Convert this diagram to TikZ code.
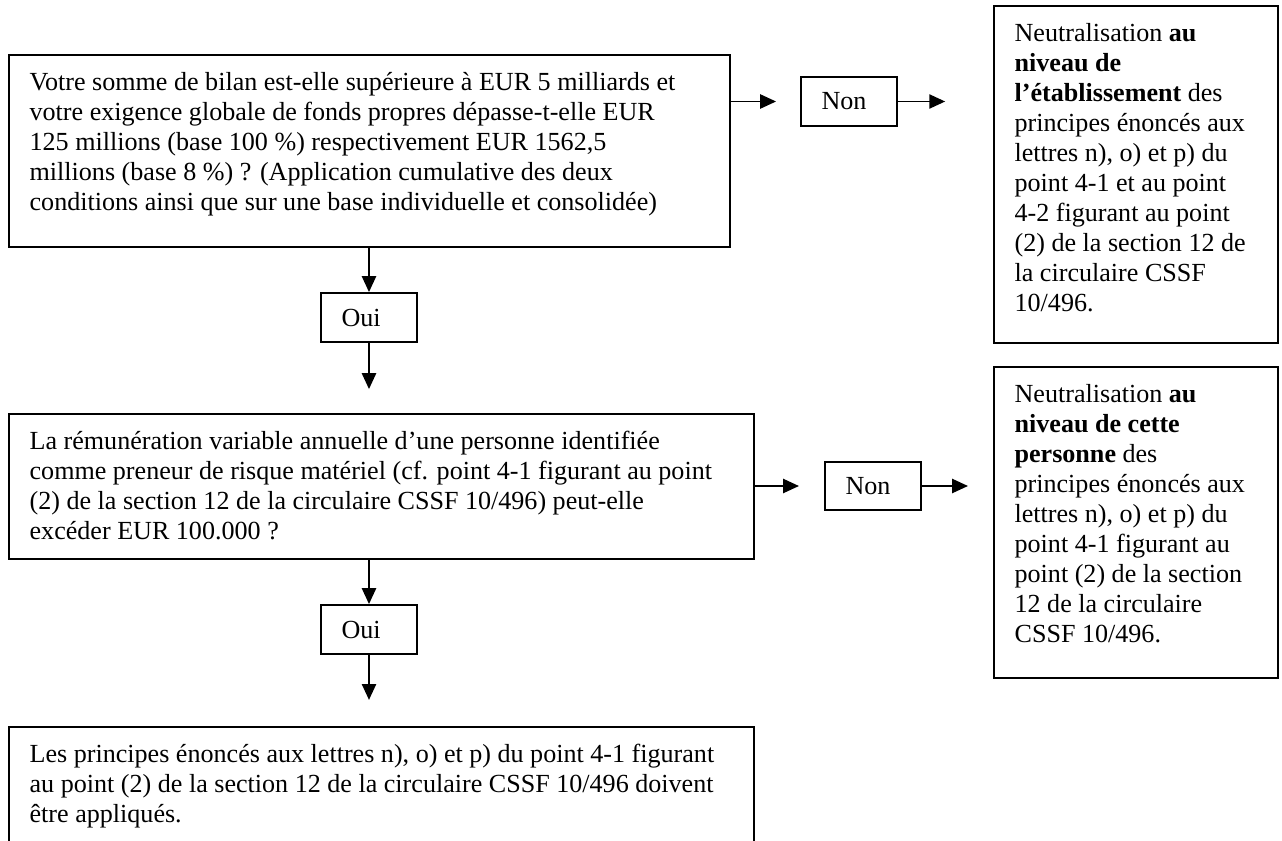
\documentclass[tikz,border=0pt]{standalone}
\usepackage{fontspec}
\setmainfont{Liberation Serif}
\usetikzlibrary{arrows.meta}

\begin{document}
\begin{tikzpicture}[x=0.46pt,y=-0.46pt,->,>={Triangle[length=7.3pt,width=6.5pt]},
        line width=0.9pt,every node/.style={font=\fontsize{12}{13.8}\selectfont},
        qbox/.style={draw,anchor=north west,inner xsep=9.5pt,inner ysep=8pt},
        ansbox/.style={draw,minimum width=44.2pt,minimum height=22.5pt,
          text width=25.2pt,align=left,inner sep=0pt}]

  \useasboundingbox (0,0) rectangle (1282,841);
  \clip (0,0) rectangle (1282,841);

  \node[qbox] (q1) at (8,54) {\parbox[t][72.3pt][t]{312.7pt}{\raggedright
    Votre somme de bilan est-elle supérieure à EUR 5 milliards et\\
    votre exigence globale de fonds propres dépasse-t-elle EUR\\
    125 millions (base 100~\%) respectivement EUR 1562,5\\
    millions (base 8~\%) ? (Application cumulative des deux\\
    conditions ainsi que sur une base individuelle et consolidée)}};
  \node[ansbox] (n1) at (849,101.5) {Non};
  \node[qbox] (r1) at (993,5) {\parbox[t][139pt][t]{111.6pt}{\raggedright
    Neutralisation \textbf{au}\\
    \textbf{niveau de}\\
    \textbf{l’établissement} des\\
    principes énoncés aux\\
    lettres n), o) et p) du\\
    point 4-1 et au point\\
    4-2 figurant au point\\
    (2) de la section 12 de\\
    la circulaire CSSF\\
    10/496.}};
  \node[ansbox] (o1) at (369,317.5) {Oui};
  \node[qbox] (q2) at (8,413) {\parbox[t][50.7pt][t]{323.7pt}{\raggedright
    La rémunération variable annuelle d’une personne identifiée\\
    comme preneur de risque matériel (cf. point 4-1 figurant au point\\
    (2) de la section 12 de la circulaire CSSF 10/496) peut-elle\\
    excéder EUR 100.000 ?}};
  \node[ansbox] (n2) at (873,486) {Non};
  \node[qbox] (r2) at (993,366) {\parbox[t][127.1pt][t]{111.6pt}{\raggedright
    Neutralisation \textbf{au}\\
    \textbf{niveau de cette}\\
    \textbf{personne} des\\
    principes énoncés aux\\
    lettres n), o) et p) du\\
    point 4-1 figurant au\\
    point (2) de la section\\
    12 de la circulaire\\
    CSSF 10/496.}};
  \node[ansbox] (o2) at (369,629.5) {Oui};
  \node[qbox] (qb) at (8,726) {\parbox[t][100pt][t]{323.7pt}{\raggedright
    Les principes énoncés aux lettres n), o) et p) du point 4-1 figurant\\
    au point (2) de la section 12 de la circulaire CSSF 10/496 doivent\\
    être appliqués.}};

  \path (q1.east |- n1) edge[shorten >=11pt] (n1)
        (n1) edge[shorten >=22pt] (n1 -| r1.west)
        (q1.south -| o1) edge (o1)
        (o1) edge[shorten >=11pt] (o1 |- q2.north)
        (q2.east |- n2) edge[shorten >=11.5pt] (n2)
        (n2) edge[shorten >=11.5pt] (n2 -| r2.west)
        (q2.south -| o2) edge (o2)
        (o2) edge[shorten >=12pt] (o2 |- qb.north);

\end{tikzpicture}
\end{document}
